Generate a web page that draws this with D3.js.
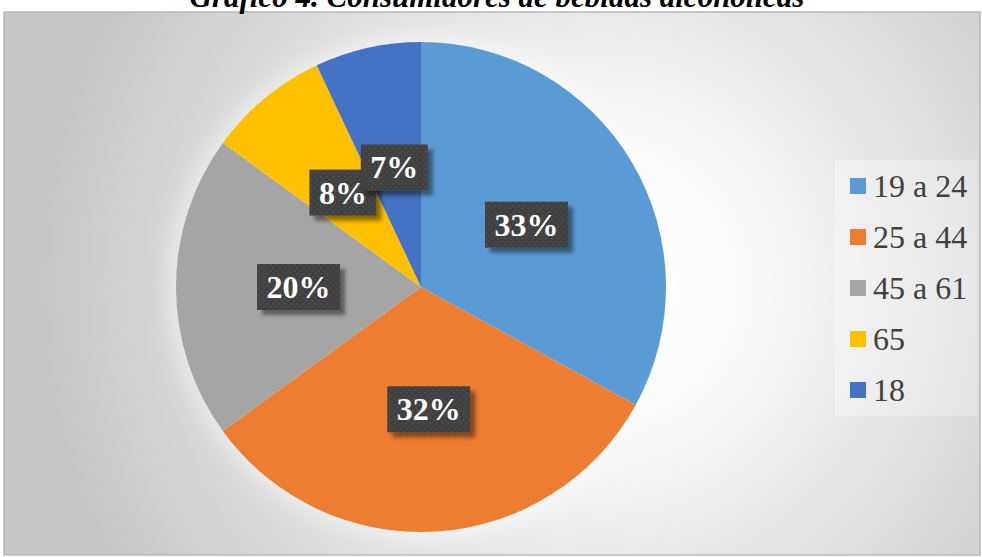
<!DOCTYPE html>
<html>
<head>
<meta charset="utf-8">
<script src="https://cdn.jsdelivr.net/npm/d3@7"></script>
<style>
  html, body { margin: 0; padding: 0; background: #ffffff; }
  svg { display: block; }
</style>
</head>
<body>
<svg id="chart" width="982" height="557"></svg>
<script>
// Age groups of alcoholic-drink consumers and their share (%)
const categories = ["19 a 24", "25 a 44", "45 a 61", "65", "18"];
const shares = [33, 32, 20, 8, 7];
const sliceColors = ["#5B9BD5", "#ED7D31", "#A5A5A5", "#FFC000", "#4472C4"];
const chartTitle = "Gráfico 4. Consumidores de bebidas alcohólicas";

const svg = d3.select("#chart");
const W = 982, H = 557;

const defs = svg.append("defs");

// Background radial gradient for the chart area
const bg = defs.append("radialGradient")
  .attr("id", "bgGrad")
  .attr("gradientUnits", "userSpaceOnUse")
  .attr("cx", 600).attr("cy", 285).attr("r", 560);
bg.append("stop").attr("offset", 0).attr("stop-color", "#ffffff");
bg.append("stop").attr("offset", 0.25).attr("stop-color", "#fafafa");
bg.append("stop").attr("offset", 1).attr("stop-color", "#c6c6c6");

// Soft glow around the pie
const glow = defs.append("filter").attr("id", "glow")
  .attr("x", "-30%").attr("y", "-30%").attr("width", "160%").attr("height", "160%");
glow.append("feGaussianBlur").attr("stdDeviation", 12);

// Drop shadow behind the data-label boxes
const sh = defs.append("filter").attr("id", "boxShadow")
  .attr("x", "-30%").attr("y", "-30%").attr("width", "160%").attr("height", "160%");
sh.append("feGaussianBlur").attr("in", "SourceAlpha").attr("stdDeviation", 2.2).attr("result", "b");
sh.append("feOffset").attr("in", "b").attr("dx", 5).attr("dy", 5).attr("result", "o");
sh.append("feComponentTransfer").attr("in", "o").attr("result", "s")
  .append("feFuncA").attr("type", "linear").attr("slope", 0.45);
const mg = sh.append("feMerge");
mg.append("feMergeNode").attr("in", "s");
mg.append("feMergeNode").attr("in", "SourceGraphic");

// Dotted dark texture for the label boxes
const pat = defs.append("pattern").attr("id", "dots")
  .attr("patternUnits", "userSpaceOnUse").attr("width", 6).attr("height", 6);
pat.append("rect").attr("width", 6).attr("height", 6).attr("fill", "#3f3f3f");
pat.append("rect").attr("x", 1).attr("y", 1).attr("width", 1.6).attr("height", 1.6).attr("fill", "#555555");
pat.append("rect").attr("x", 4).attr("y", 4).attr("width", 1.6).attr("height", 1.6).attr("fill", "#555555");

// Chart area
svg.append("rect")
  .attr("x", 4).attr("y", 12).attr("width", 976).attr("height", 543)
  .attr("fill", "url(#bgGrad)")
  .attr("stroke", "#b8b8b8").attr("stroke-width", 1.5);

// Title (its upper part runs off the top edge)
svg.append("text")
  .attr("x", 497).attr("y", 7)
  .attr("text-anchor", "middle")
  .attr("font-family", "'Liberation Serif', 'Times New Roman', serif")
  .attr("font-weight", "bold").attr("font-style", "italic")
  .attr("font-size", 31).attr("fill", "#000000")
  .text(chartTitle);

// Pie
const cx = 421, cy = 287, R = 245;
const g = svg.append("g").attr("transform", `translate(${cx},${cy})`);

const color = d3.scaleOrdinal().domain(categories).range(sliceColors);
const pie = d3.pie().sort(null).value(d => d.v);
const data = pie(categories.map((c, i) => ({ c, v: shares[i] })));
const arc = d3.arc().innerRadius(0).outerRadius(R);

g.append("circle").attr("r", R + 6)
  .attr("fill", "#ffffff").attr("opacity", 0.55)
  .attr("filter", "url(#glow)");

g.selectAll("path.slice").data(data).enter().append("path")
  .attr("class", "slice")
  .attr("d", arc)
  .attr("fill", d => color(d.data.c))
  .attr("stroke", "none");

// Data labels in dark boxes at the slice centroids
const labelFont = "'Liberation Serif', 'Times New Roman', serif";
const labels = g.selectAll("g.lbl").data(data).enter().append("g")
  .attr("class", "lbl")
  .attr("transform", d => { const [x, y] = arc.centroid(d); return `translate(${x},${y})`; });

labels.each(function (d) {
  const sel = d3.select(this);
  const box = sel.append("rect").attr("fill", "url(#dots)").attr("filter", "url(#boxShadow)");
  const t = sel.append("text")
    .attr("text-anchor", "middle")
    .attr("y", 11)
    .attr("font-family", labelFont)
    .attr("font-weight", "bold")
    .attr("font-size", 32)
    .attr("fill", "#ffffff")
    .text(d.data.v + "%");
  const w = t.node().getComputedTextLength() + 19;
  box.attr("x", -w / 2).attr("y", -23).attr("width", w).attr("height", 46);
});

// Legend
const lg = svg.append("g");
lg.append("rect")
  .attr("x", 835).attr("y", 160).attr("width", 142).attr("height", 256)
  .attr("fill", "#ffffff").attr("opacity", 0.3);

const ly = d3.scalePoint().domain(categories).range([186, 390]);
const items = lg.selectAll("g.item").data(categories).enter().append("g")
  .attr("class", "item")
  .attr("transform", d => `translate(850,${ly(d)})`);
items.append("rect")
  .attr("x", 0).attr("y", -8).attr("width", 16).attr("height", 16)
  .attr("fill", d => color(d));
items.append("text")
  .attr("x", 23).attr("y", 11)
  .attr("font-family", labelFont)
  .attr("font-size", 32)
  .attr("fill", "#404040")
  .text(d => d);
</script>
</body>
</html>
